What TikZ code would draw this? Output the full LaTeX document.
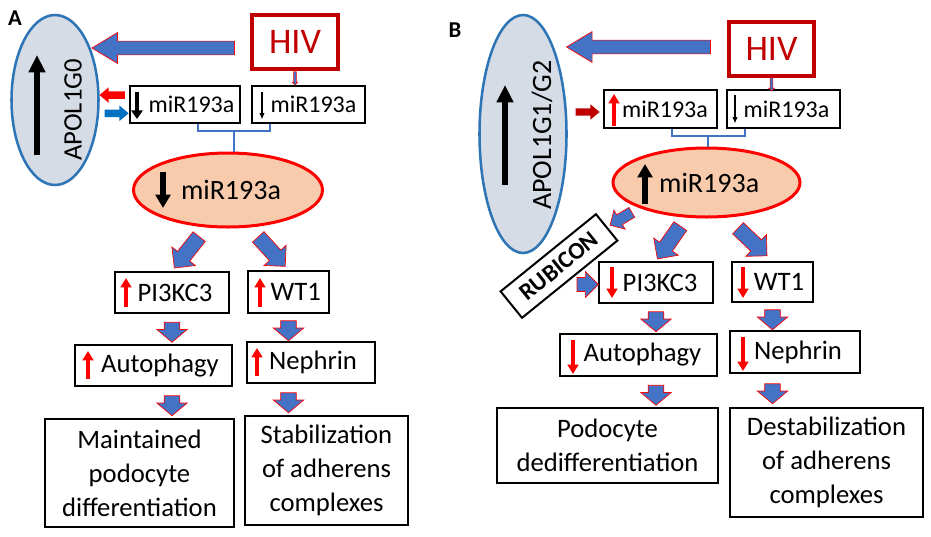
\documentclass[tikz,border=0pt]{standalone}
\usepackage{fontspec}
\setmainfont{Carlito}
\usepackage{tikz}
\usetikzlibrary{shapes.geometric,shapes.arrows,arrows.meta}
\definecolor{arrblue}{HTML}{4472C4}
\definecolor{apolfill}{HTML}{D6DCE5}
\definecolor{apoldraw}{HTML}{2E75B6}
\definecolor{peach}{HTML}{F8CBAD}
\definecolor{hivred}{HTML}{C00000}
\definecolor{midblue}{HTML}{0070C0}

\begin{document}
\begin{tikzpicture}[x=0.75pt,y=-0.75pt,>=Triangle]
\tikzset{
  box/.style={draw,line width=1.5pt,inner sep=0pt,font=\fontsize{20}{24}\selectfont},
  mbox/.style={box,minimum height=28pt,font=\fontsize{18}{20}\selectfont},
  endbox/.style={box,align=center,font=\fontsize{20}{25.5}\selectfont},
  apol/.style={ellipse,draw=apoldraw,line width=1.9pt,fill=apolfill,inner sep=0pt},
  mir/.style={ellipse,draw=red,line width=2.25pt,fill=peach,inner sep=0pt,font=\fontsize{21}{24}\selectfont},
  hiv/.style={draw=hivred,line width=3pt,text=hivred,inner sep=0pt,font=\fontsize{27}{30}\selectfont},
  fat/.style={single arrow,draw=red,line width=0.5pt,fill=arrblue,inner xsep=0pt,sloped,allow upside down},
  bigfat/.style={fat,inner ysep=4.9pt,single arrow head extend=6.4pt,single arrow tip angle=62},
  midfat/.style={fat,minimum height=30pt,inner ysep=5.6pt,single arrow head extend=5.4pt},
  stubfat/.style={fat,minimum height=15pt,inner ysep=5.6pt,single arrow head extend=5.5pt,single arrow tip angle=100},
  tinyfat/.style={fat,line width=0.4pt,minimum height=10pt,inner ysep=0.8pt,single arrow head extend=1.2pt},
  sidearr/.style={single arrow,draw=none,inner xsep=0pt,inner ysep=2.6pt,sloped,allow upside down,single arrow head extend=3pt,single arrow tip angle=80},
  brk/.style={draw=arrblue,line width=1.5pt},
  upred/.style={red,line width=2.6pt,-{Triangle[width=8pt,length=7pt]}},
  blkthick/.style={black,line width=3.2pt,-{Triangle[width=8.5pt,length=6.5pt]}},
  blkthin/.style={black,line width=0.9pt,-{Triangle[width=3.5pt,length=4.5pt]}},
  blkbig/.style={black,line width=4.5pt,-{Triangle[width=12pt,length=13pt]}}
}
\useasboundingbox (0,0) rectangle (931,536);
% panel labels
\node[font=\bfseries\fontsize{17}{20}\selectfont] (lA) at (15,18) {A};
\node[font=\bfseries\fontsize{17}{20}\selectfont] (lB) at (455,30) {B};
% panel A
%   nodes
    \node[apol,minimum width=65.25pt,minimum height=127.5pt] (apA) at (55,100) {};
    \node[rotate=90,font=\fontsize{20}{22}\selectfont] (apAt) at (73,110) {APOL1G0};
    \node[hiv,minimum width=64.5pt,minimum height=40pt] (hivA) at (295,42) {HIV};
    \node[mbox,minimum width=82.5pt] (m1A) at (185,104.5) {\hspace{9.75pt}miR193a};
    \node[mbox,minimum width=84.75pt] (m2A) at (308.5,104.5) {\hspace{7.5pt}miR193a};
    \node[mir,minimum width=141.75pt,minimum height=55.5pt] (eA) at (228,190) {\hspace{4.5pt}miR193a};
    \node[box,minimum width=85.5pt,minimum height=30.75pt] (pA) at (172,292.5) {\hspace{4.5pt}PI3KC3};
    \node[box,minimum width=60.75pt,minimum height=31.5pt] (wA) at (288.5,292) {\hspace{11pt}WT1};
    \node[box,minimum width=117.75pt,minimum height=30.75pt] (aA) at (153.5,365.5) {\hspace{9.75pt}Autophagy};
    \node[box,minimum width=96pt,minimum height=30.75pt] (nA) at (311,362.5) {\hspace{3pt}Nephrin};
    \node[endbox,minimum width=141.75pt,minimum height=81pt] (dA) at (139.5,473) {Maintained\\podocyte\\differentiation};
    \node[endbox,minimum width=122.25pt,minimum height=81.75pt] (sA) at (326.5,470.5) {Stabilization\\of adherens\\complexes};
%   connectors
    \path ([yshift=-4.5pt]hivA.west) -- node[bigfat,pos=0.54,minimum height=107pt] {} ([yshift=-4.5pt]hivA.west -| apA.east);
    \path ([yshift=7.1pt]m1A.west) -- node[sidearr,fill=red,minimum height=19pt] {} ([yshift=7.1pt]m1A.west -| apA.east);
    \path ([yshift=-6.6pt]m1A.west -| apA.east) -- node[sidearr,fill=midblue,minimum height=18pt] {} ([yshift=-6.6pt]m1A.west);
    \path (hivA.south) -- node[tinyfat] {} (hivA.south |- m2A.north);
    \draw[brk] ([xshift=9.75pt]m1A.south) |- ([xshift=-28.9pt,yshift=-5.25pt]m2A.south) coordinate[pos=0.75] (jA) -- ([xshift=-28.9pt]m2A.south);
    \draw[brk] (jA) -- (jA |- eA.north);
    \path (eA.-120) -- node[midfat] {} (pA.north);
    \path (eA.-60) -- node[midfat] {} (wA.north);
    \path (pA.south) -- node[stubfat] {} (pA.south |- aA.north);
    \path (wA.south) -- node[stubfat] {} (wA.south |- nA.north);
    \path (pA.south |- aA.south) -- node[stubfat] {} (pA.south |- dA.north);
    \path (wA.south |- nA.south) -- node[stubfat] {} (wA.south |- sA.north);
%   signs
    \draw[blkbig] (37,155) -- (37,55);
    \draw[blkthick] (137,92) -- (137,119);
    \draw[blkthin] (262,92) -- (262,119);
    \draw[blkthick,line width=4pt,-{Triangle[width=11pt,length=10pt]}] (163,172) -- (163,208);
    \draw[upred] (126,307) -- (126,278);
    \draw[upred] (260,307) -- (260,278);
    \draw[upred] (88,379) -- (88,351);
    \draw[upred] (257,376) -- (257,348);
% panel B
%   nodes
    \node[apol,minimum width=65.25pt,minimum height=178.5pt] (apB) at (523,134) {};
    \node[rotate=90,font=\fontsize{21}{24}\selectfont] (apBt) at (542,135) {APOL1G1/G2};
    \node[hiv,minimum width=63.75pt,minimum height=40.5pt] (hivB) at (771.5,49) {HIV};
    \node[mbox,minimum width=84.75pt] (m1B) at (660.5,109) {\hspace{6.75pt}miR193a};
    \node[mbox,minimum width=84.75pt] (m2B) at (783.5,109) {\hspace{4.5pt}miR193a};
    \node[mir,minimum width=140.25pt,minimum height=51.75pt] (eB) at (706.5,182.5) {\hspace{4pt}miR193a};
    \node[box,rotate=39,minimum width=92pt,minimum height=25.5pt,font=\bfseries\fontsize{18}{22}\selectfont] (rB) at (559,266) {RUBICON};
    \node[box,minimum width=85.5pt,minimum height=30.75pt] (pB) at (656,282.5) {\hspace{6pt}PI3KC3};
    \node[box,minimum width=60.75pt,minimum height=30pt] (wB) at (772.5,282) {\hspace{9.75pt}WT1};
    \node[box,minimum width=117.75pt,minimum height=31.5pt] (aB) at (638.5,355) {\hspace{6pt}Autophagy};
    \node[box,minimum width=97.5pt,minimum height=31.5pt] (nB) at (795,352) {\hspace{4.5pt}Nephrin};
    \node[endbox,minimum width=165.75pt,minimum height=56.25pt] (dB) at (607.5,445.5) {Podocyte\\dedifferentiation};
    \node[endbox,minimum width=144.75pt,minimum height=81.75pt] (sB) at (826.5,462.5) {Destabilization\\of adherens\\complexes};
%   connectors
    \path ([yshift=1.5pt]hivB.west) -- node[bigfat,pos=0.52,minimum height=108pt] {} ([yshift=1.5pt]hivB.west -| apB.east);
    \path ([yshift=-2.25pt]m1B.west -| apB.east) -- node[sidearr,fill=hivred,minimum height=18pt] {} ([yshift=-2.25pt]m1B.west);
    \path (hivB.south) -- node[tinyfat] {} (hivB.south |- m2B.north);
    \draw[brk] ([xshift=8.6pt]m1B.south) |- ([xshift=-28.9pt,yshift=-5.25pt]m2B.south) coordinate[pos=0.75] (jB) -- ([xshift=-28.9pt]m2B.south);
    \draw[brk] (jB) -- (jB |- eB.north);
    \path (eB.south west) -- node[fat,minimum height=19pt,inner ysep=4pt,single arrow head extend=4pt] {} (rB.east);
    \path ([yshift=-1.5pt]rB.south |- pB.west) -- node[fat,minimum height=16pt,inner ysep=5pt,single arrow head extend=4.5pt] {} ([yshift=-1.5pt]pB.west);
    \path (eB.-120) -- node[midfat] {} (pB.north);
    \path (eB.-60) -- node[midfat] {} (wB.north);
    \path (pB.south) -- node[stubfat] {} (pB.south |- aB.north);
    \path (wB.south) -- node[stubfat] {} (wB.south |- nB.north);
    \path (pB.south |- aB.south) -- node[stubfat] {} (pB.south |- dB.north);
    \path (wB.south |- nB.south) -- node[stubfat] {} (wB.south |- sB.north);
%   signs
    \draw[blkbig] (505,185) -- (505,85);
    \draw[upred] (614,126) -- (614,94);
    \draw[blkthin] (735,95) -- (735,123);
    \draw[blkthick,line width=4pt,-{Triangle[width=11pt,length=10pt]}] (645,204) -- (645,164);
    \draw[upred] (612,267) -- (612,298);
    \draw[upred] (743,267) -- (743,298);
    \draw[upred] (573,340) -- (573,374);
    \draw[upred] (743,337) -- (743,371);
\end{tikzpicture}
\end{document}
